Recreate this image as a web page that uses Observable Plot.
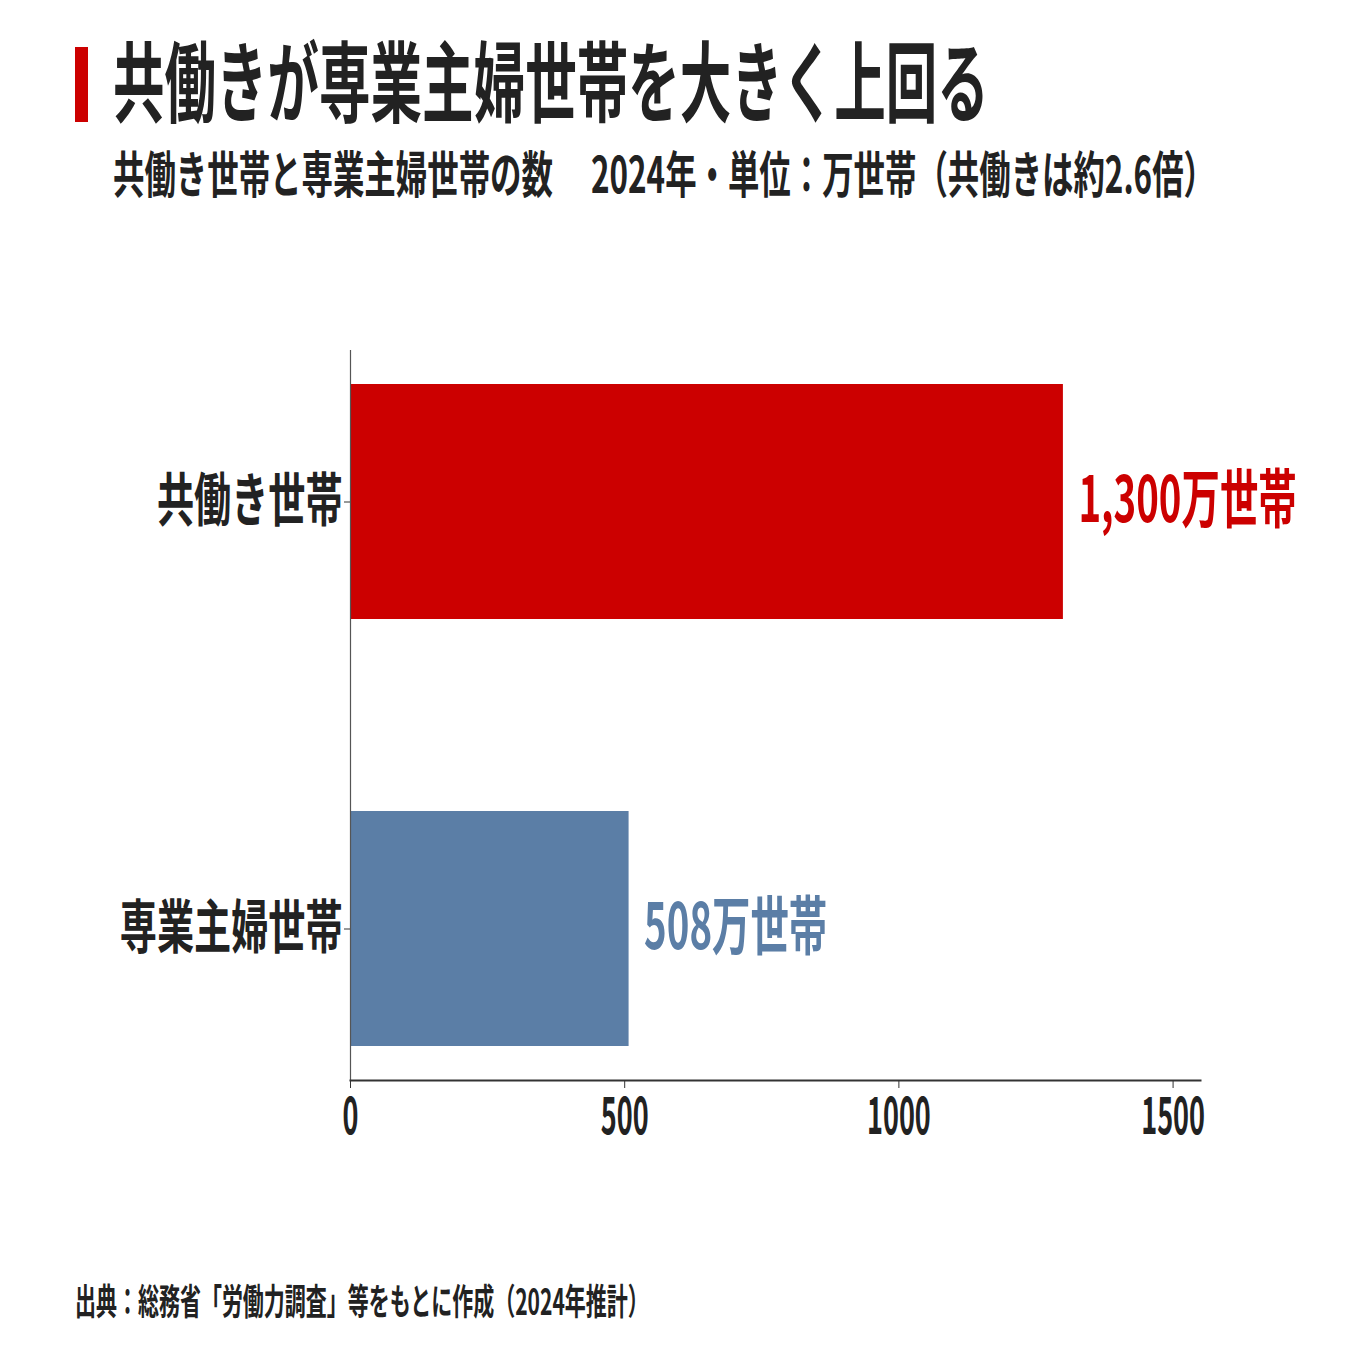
<!DOCTYPE html>
<html>
<head>
<meta charset="utf-8">
<script src="https://cdn.jsdelivr.net/npm/d3@7"></script>
<script src="https://cdn.jsdelivr.net/npm/@observablehq/plot@0.6"></script>
<style>
  html, body { margin: 0; padding: 0; background: #fff; }
  #page { position: relative; width: 1350px; height: 1350px; overflow: hidden; background: #fff;
          font-family: "Noto Sans CJK JP", "Noto Sans", sans-serif; }
  #page svg { position: absolute; left: 0; }
</style>
</head>
<body>
<div id="page"></div>
<script>
// ---- data ----
const categories = ["共働き世帯", "専業主婦世帯"];
const values = [1300, 508];
const barColors = ["#cc0000", "#5b7ea6"];
const unit = "万世帯";
const xTicks = [0, 500, 1000, 1500];

const titleText = "共働きが専業主婦世帯を大きく上回る";
const subtitleA = "共働き世帯と専業主婦世帯の数";
const subtitleB = "2024年・単位：万世帯（共働きは約2.6倍）";
const sourceText = "出典：総務省「労働力調査」等をもとに作成（2024年推計）";

const data = categories.map((c, i) => ({category: c, value: values[i]}));
const FONT = "Noto Sans CJK JP";
const INK = "#222";

const page = document.getElementById("page");

// ---- header & footer (SVG text, condensed horizontally to a target width) ----
const deco = d3.select(page).append("svg")
  .attr("width", 1350).attr("height", 1350).style("top", "0px");
deco.append("rect").attr("x", 75).attr("y", 47).attr("width", 13).attr("height", 75).attr("fill", "#cc0000");
function fitText(x, y, size, len, str) {
  const t = deco.append("text").attr("x", 0).attr("y", 0)
    .attr("font-family", FONT).attr("font-weight", 700).attr("font-size", size)
    .attr("fill", INK).text(str);
  const w = t.node().getComputedTextLength();
  t.attr("transform", `translate(${x},${y}) scale(${len / w},1)`);
}
fitText(113, 115, 88, 876, titleText);
fitText(113, 193, 50, 440, subtitleA);
fitText(591, 193, 50, 624, subtitleB);
fitText(75, 1315, 36, 574, sourceText);

// ---- chart ----
const chart = Plot.plot({
  width: 1350,
  height: 850,
  marginTop: 50,
  marginBottom: 70,
  marginLeft: 350,
  marginRight: 150,
  style: {fontFamily: FONT, color: INK, background: "transparent"},
  x: {domain: [0, 1550]},
  y: {domain: categories, paddingInner: 0.45, paddingOuter: 0.078},
  color: {domain: categories, range: barColors},
  marks: [
    Plot.barX(data, {x: "value", y: "category", fill: "category"}),
    Plot.frame({anchor: "left", stroke: "#555", strokeWidth: 1.2}),
    Plot.frame({anchor: "bottom", stroke: "#333", strokeWidth: 2}),
    Plot.axisX({ticks: xTicks, tickFormat: d3.format("d"), tickSize: 8, tickPadding: 9, fontSize: 52, fontWeight: 700, label: null, stroke: "#333"}),
    Plot.axisY({tickSize: 6, tickPadding: 2, fontSize: 58, fontWeight: 700, label: null, stroke: "#333"}),
    Plot.text(data, {
      x: "value", y: "category",
      text: d => d3.format(",")(d.value) + unit,
      dx: 15, textAnchor: "start", fill: "category",
      fontSize: 64, fontWeight: 700
    })
  ]
});
chart.style.top = "300px";
page.appendChild(chart);

// condense glyphs horizontally around each text's anchor point (narrow typeface look)
function condense(sel, k) {
  chart.querySelectorAll(sel).forEach(t => {
    const ax = parseFloat(t.getAttribute("x")) || 0;
    const ay = parseFloat(t.getAttribute("y")) || 0;
    const prev = t.getAttribute("transform") || "";
    t.setAttribute("transform", `${prev} translate(${ax},${ay}) scale(${k},1) translate(${-ax},${-ay})`.trim());
  });
}
condense('g[aria-label="x-axis tick label"] text', 0.52);
condense('g[aria-label="y-axis tick label"] text', 0.64);
condense('g[aria-label="text"] text', 0.60);
</script>
</body>
</html>
